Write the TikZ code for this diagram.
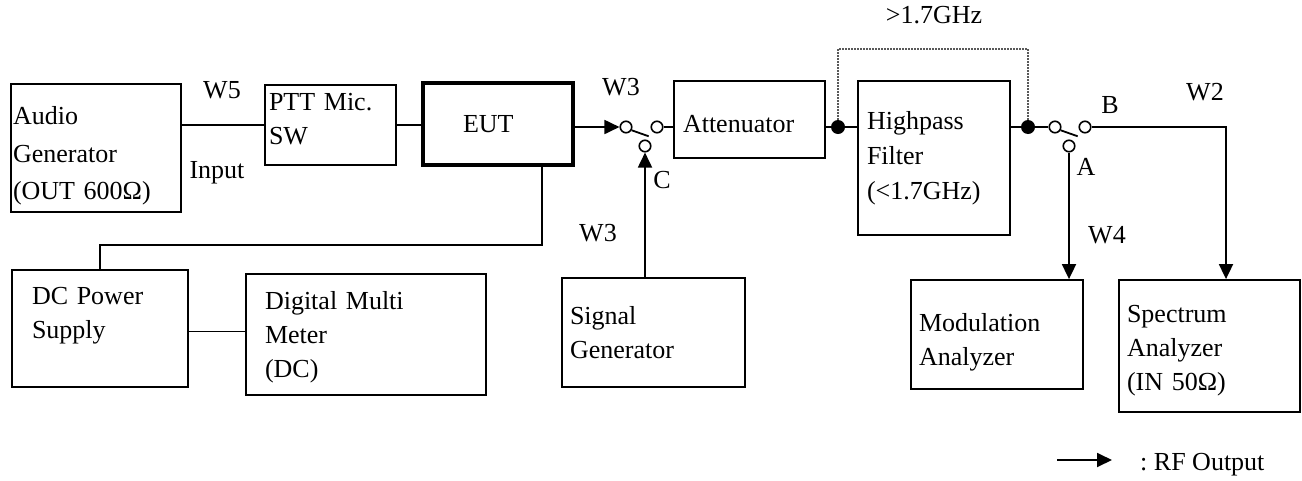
\documentclass[tikz,border=0pt]{standalone}
\usepackage{fontspec}
\setmainfont{Liberation Serif}
\usetikzlibrary{arrows.meta}
\frenchspacing
% invisible struts to move box text up or down
\newcommand{\toppad}[1]{\rule{0pt}{#1}}
\newcommand{\botpad}[1]{\rule[-#1]{0pt}{0pt}}

\begin{document}
\begin{tikzpicture}[x=1pt,y=-1pt,
		font=\fontsize{26}{34}\selectfont,
		blk/.style={draw,line width=1.8pt,inner sep=0pt,align=left},
		wire/.style={line width=1.8pt},
		rf/.style={wire,-{Triangle[length=15pt,width=14pt]}},
		sw/.style={circle,draw,line width=1.6pt,fill=white,inner sep=0pt,minimum size=11.5pt},
		dot/.style={circle,fill,inner sep=0pt,minimum size=14pt},
		lbl/.style={inner sep=0pt,anchor=base}]
		\useasboundingbox (0,0) rectangle (1302,480);
		
		% top row
		\node[blk,minimum width=170pt,minimum height=128pt,text width=166pt] (audio) at (96,148) {\toppad{34pt}Audio\\[3.5pt]Generator\\[3.5pt](OUT 600Ω)};
		\node[blk,minimum width=131pt,minimum height=80pt,text width=123pt] (ptt) at (330.5,125) {PTT Mic.\\SW\botpad{12pt}};
		\node[blk,line width=4.4pt,minimum width=150pt,minimum height=82pt,text width=70pt] (eut) at (498,124) {EUT};
		\node[blk,minimum width=151pt,minimum height=77pt,text width=133pt] (att) at (749.5,119.5) {\toppad{26pt}Attenuator};
		\node[blk,minimum width=152pt,minimum height=154pt,text width=134pt] (hp) at (934,158) {Highpass\\[1pt]Filter\\[1pt](<1.7GHz)};
		
		% bottom row
		\node[blk,minimum width=176pt,minimum height=117pt,text width=136pt] (dc) at (100,328.5) {DC Power\\Supply\botpad{31pt}};
		\node[blk,minimum width=240pt,minimum height=121pt,text width=202pt] (dmm) at (366,334.5) {\toppad{24pt}Digital Multi\\Meter\\(DC)};
		\node[blk,minimum width=183pt,minimum height=109pt,text width=167pt] (sig) at (653.5,332.5) {Signal\\Generator};
		\node[blk,minimum width=172pt,minimum height=109pt,text width=156pt] (mod) at (997,334.5) {\toppad{34pt}Modulation\\Analyzer};
		\node[blk,minimum width=181pt,minimum height=132pt,text width=165pt] (spec) at (1209.5,346) {\toppad{26pt}Spectrum\\Analyzer\\(IN 50Ω)};
		
		% switches and junctions
		\node[sw] (s1l) at (626,127) {};
		\node[sw] (s1r) at (657,127) {};
		\node[sw] (s1c) at (645,146) {};
		\node[sw] (s2l) at (1055,127) {};
		\node[sw] (s2r) at (1085,127) {};
		\node[sw] (s2c) at (1069,146) {};
		\node[dot] (d1) at (838,127) {};
		\node[dot] (d2) at (1028,127) {};
		\coordinate (dtop) at (933,49);
		
		% wiring
		\draw[wire] (ptt.west -| audio.east) -- (ptt.west);
		\draw[wire] (ptt.east) -- (ptt.east -| eut.west);
		\draw[rf] (s1l.west -| eut.east) -- (s1l.west);
		\draw[wire] (s1l.-30) -- ++(17,6);
		\draw[wire] (s1r.east) -- (s1r.east -| att.west);
		\draw[rf] (sig.north -| s1c) -- (s1c.south);
		\draw[wire] (d1 -| att.east) -- (d1.west);
		\draw[wire] (d1.east) -- (d1 -| hp.west);
		\draw[wire] (d2 -| hp.east) -- (d2.west);
		\draw[wire] (d2.east) -- (s2l.west);
		\draw[wire] (s2l.-30) -- ++(17,6);
		\draw[rf] (s2r.east) -| ([xshift=16.5pt]spec.north);
		\draw[rf] (s2c.south) -- (s2c.south |- mod.north);
		\draw[gray!70!black,line width=1.2pt,dash pattern=on 1.5pt off 1.5pt] (d1.north) |- (dtop) -| (d2.north);
		
		% dc supply
		\draw[wire] ([xshift=44pt]eut.south) -- ++(0,78) -| (dc.north);
		\draw[wire] ([yshift=-3pt]dc.east) -- ([yshift=-3pt]dc.east -| dmm.west);
		
		% labels
		\node[lbl] (lw5) at (222,98) {W5};
		\node[lbl] (lin) at (217,178) {Input};
		\node[lbl] (lw3a) at (621,95) {W3};
		\node[lbl] (lc) at (662,188) {C};
		\node[lbl] (lw3b) at (598,241) {W3};
		\node[lbl] (lghz) at (934,23) {>1.7GHz};
		\node[lbl] (lb) at (1110,113) {B};
		\node[lbl] (la) at (1086,175) {A};
		\node[lbl] (lw2) at (1205,100) {W2};
		\node[lbl] (lw4) at (1107,243) {W4};
		
		% legend
		\coordinate (lga) at (1057,460);
		\coordinate (lgb) at (1112,460);
		\draw[rf] (lga) -- (lgb);
		\node[lbl,anchor=base west] (lgt) at (1140,470) {: RF Output};
	\end{tikzpicture}
\end{document}
